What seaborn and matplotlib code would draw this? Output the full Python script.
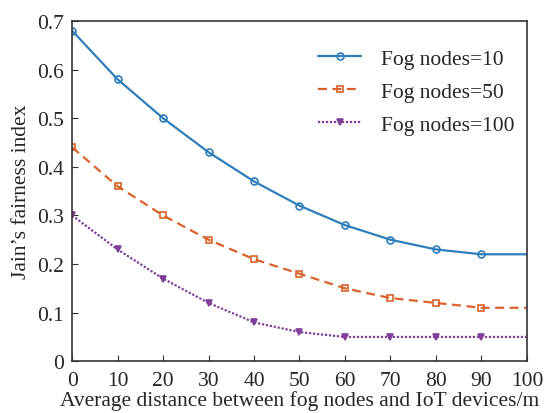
import numpy as np
import pandas as pd
import matplotlib
matplotlib.use("Agg")
import matplotlib.pyplot as plt
import seaborn as sns

# data
distance = [0, 10, 20, 30, 40, 50, 60, 70, 80, 90, 100]
fog10 = [0.68, 0.58, 0.50, 0.43, 0.37, 0.32, 0.28, 0.25, 0.23, 0.22, 0.22]
fog50 = [0.44, 0.36, 0.30, 0.25, 0.21, 0.18, 0.15, 0.13, 0.12, 0.11, 0.11]
fog100 = [0.30, 0.23, 0.17, 0.12, 0.08, 0.06, 0.05, 0.05, 0.05, 0.05, 0.05]
labels = ["Fog nodes=10", "Fog nodes=50", "Fog nodes=100"]

df = pd.DataFrame({"distance": distance * 3,
                   "jain": fog10 + fog50 + fog100,
                   "series": [labels[0]] * 11 + [labels[1]] * 11 + [labels[2]] * 11})

sns.set_style("ticks")
plt.rcParams["font.family"] = ["Liberation Serif", "DejaVu Serif"]

fig, ax = plt.subplots(figsize=(5.46, 4.14), dpi=100)

colors = ["#2f7ebc", "#d9622b", "#7d3f98"]
styles = ["-", (0, (4, 2.5)), (0, (1, 0.8))]
markers = ["o", "s", "v"]
mfc = ["none", "none", "#7d3f98"]

for lab, c, ls, m, fc in zip(labels, colors, styles, markers, mfc):
    sub = df[df["series"] == lab]
    sns.lineplot(data=sub, x="distance", y="jain", ax=ax, color=c, linestyle=ls,
                 marker=m, markersize=5, markerfacecolor=fc, markeredgecolor=c,
                 markeredgewidth=1.2, linewidth=1.6, markevery=list(range(10)),
                 label=lab)

ax.set_xlim(0, 100)
ax.set_ylim(0, 0.7)
ax.set_xticks(range(0, 101, 10))
ax.set_yticks([0, 0.1, 0.2, 0.3, 0.4, 0.5, 0.6, 0.7])
ax.set_yticklabels(["0", "0.1", "0.2", "0.3", "0.4", "0.5", "0.6", "0.7"])
ax.tick_params(direction="in", labelsize=15.5, length=4, color="#333333")
ax.tick_params(axis="x", pad=7)
ax.tick_params(axis="y", pad=6)
ax.set_xlabel("Average distance between fog nodes and IoT devices/m", fontsize=15.5, labelpad=0)
ax.set_ylabel("Jain’s fairness index", fontsize=15.5, labelpad=4)
for s in ax.spines.values():
    s.set_visible(True)
    s.set_linewidth(1.2)
    s.set_color("#333333")

ax.legend(loc="upper right", frameon=False, fontsize=15.5, handlelength=2.0,
          bbox_to_anchor=(1.015, 0.975), labelspacing=0.6, handletextpad=0.9)

fig.subplots_adjust(left=0.132, right=0.965, top=0.947, bottom=0.125)
fig.savefig("out.png", dpi=100)
